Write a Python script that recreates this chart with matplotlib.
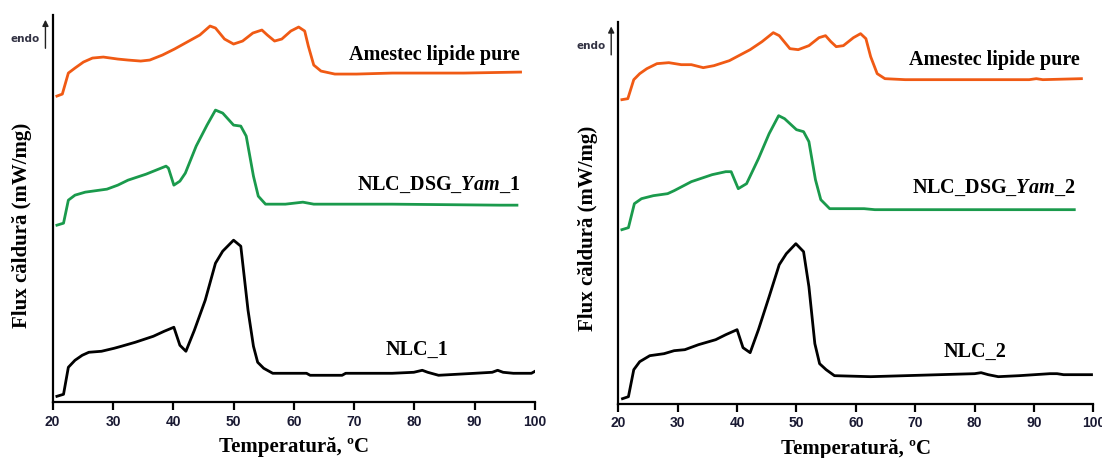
#!/usr/bin/env python3

import matplotlib
matplotlib.use('Agg')
import matplotlib.pyplot as plt

# DSC curves.  Heights are arbitrary heat flux
# units (the y axis has no scale), temperature is in degrees C.

# Left panel: lipid mixture
t_mix_1 = [20.7, 21.6, 22.6, 23.7, 25.1, 26.6, 28.4, 30.8, 32.5, 34.6, 36.1, 38.2, 40.2, 42.6,
           44.4, 46.1, 47.0, 48.5, 50.0, 51.5, 53.2, 54.7, 55.6, 56.8, 58.0, 59.5, 60.8, 61.8,
           62.4, 63.3, 64.5, 66.8, 70.4, 76.3, 88.2, 97.6]
f_mix_1 = [306, 308, 329, 334, 340, 344, 345, 343, 342, 341, 342, 347, 353, 361,
           367, 376, 374, 363, 358, 361, 369, 372, 367, 361, 363, 371, 375, 371,
           356, 337, 331, 328, 328, 329, 329, 330]

# Left panel: NLC_DSG_Yam_1
t_dsg_1 = [20.7, 21.8, 22.6, 23.7, 25.4, 29.0, 30.8, 32.5, 35.5, 38.8, 39.2, 40.1, 41.1, 42.0,
           43.8, 45.6, 47.0, 48.2, 50.0, 51.2, 52.1, 53.3, 54.1, 55.3, 58.6, 61.5, 63.3, 76.3,
           94.1, 97.0]
f_dsg_1 = [177, 179, 202, 207, 210, 213, 217, 222, 228, 236, 234, 217, 221, 229,
           256, 277, 292, 289, 277, 276, 266, 226, 206, 198, 198, 200, 198, 198,
           197, 197]

# Left panel: NLC_1
t_nlc_1 = [20.7, 21.8, 22.6, 23.7, 24.9, 26.0, 28.1, 30.2, 31.4, 33.7, 36.7, 38.5, 40.1, 41.1,
           42.1, 43.5, 45.3, 47.0, 48.2, 50.0, 51.2, 52.4, 53.3, 54.0, 55.0, 56.5, 62.1, 62.7,
           68.0, 68.6, 72.2, 76.3, 79.9, 81.3, 82.2, 84.0, 87.0, 90.0, 92.9, 93.8, 94.7, 96.4,
           99.4, 100.0]
f_nlc_1 = [6, 8, 35, 42, 47, 50, 51, 54, 56, 60, 66, 71, 75, 57,
           51, 72, 102, 139, 151, 162, 156, 92, 56, 40, 34, 29, 29, 27,
           27, 29, 29, 29, 30, 32, 30, 27, 28, 29, 30, 32, 30, 29,
           29, 31]

# Right panel: lipid mixture
t_mix_2 = [20.6, 21.6, 22.6, 23.6, 24.8, 26.5, 28.5, 30.6, 32.3, 34.3, 36.1, 38.7, 42.2, 44.2,
           46.1, 47.1, 48.9, 50.3, 52.1, 53.8, 54.9, 55.8, 56.7, 57.9, 59.6, 60.8, 61.7, 62.5,
           63.6, 64.9, 68.3, 74.1, 89.2, 90.4, 91.5, 98.0]
f_mix_2 = [304, 305, 324, 330, 335, 340, 341, 339, 339, 336, 338, 343, 354, 362,
           371, 368, 355, 354, 358, 366, 368, 362, 357, 358, 366, 370, 365, 347,
           330, 325, 324, 324, 324, 325, 324, 325]

# Right panel: NLC_DSG_Yam_2
t_dsg_2 = [20.6, 21.7, 22.7, 23.9, 25.9, 28.3, 29.4, 32.3, 35.8, 38.1, 39.0, 40.2, 41.6, 43.6,
           45.4, 47.0, 48.0, 50.0, 51.2, 52.1, 53.2, 54.1, 55.6, 61.4, 63.2, 77.0, 93.8, 96.8]
f_dsg_2 = [174, 176, 200, 205, 208, 210, 213, 222, 229, 232, 232, 215, 220, 245,
           270, 288, 285, 274, 272, 262, 224, 204, 195, 195, 194, 194, 194, 194]

# Right panel: NLC_2
t_nlc_2 = [20.7, 21.7, 22.6, 23.6, 25.3, 27.7, 29.4, 31.2, 33.5, 36.4, 38.1, 40.0, 41.0, 42.2,
           43.6, 45.4, 47.1, 48.3, 49.9, 51.2, 52.1, 53.1, 53.9, 55.0, 56.4, 62.5, 68.3, 74.1,
           80.0, 81.1, 82.3, 84.0, 87.5, 92.7, 93.9, 95.0, 99.7]
f_nlc_2 = [5, 7, 34, 42, 48, 50, 53, 54, 59, 64, 69, 74, 56, 51,
           74, 107, 139, 150, 160, 152, 117, 60, 40, 34, 28, 27, 28, 29,
           30, 31, 29, 27, 28, 30, 30, 29, 29]

panels = [
    # curves and their names, top to bottom
    dict(curves=[(t_mix_1, f_mix_1), (t_dsg_1, f_dsg_1), (t_nlc_1, f_nlc_1)],
         names=['Amestec lipide pure', 'NLC_DSG_$\\mathit{Yam}$_1', 'NLC_1']),
    dict(curves=[(t_mix_2, f_mix_2), (t_dsg_2, f_dsg_2), (t_nlc_2, f_nlc_2)],
         names=['Amestec lipide pure', 'NLC_DSG_$\\mathit{Yam}$_2', 'NLC_2']),
]

colors = ['#f05a14', '#1a9a4c', '#000000']

if __name__ == '__main__':
    plt.rcParams['mathtext.fontset'] = 'custom'
    plt.rcParams['mathtext.it'] = 'Liberation Serif:italic:bold'
    plt.rcParams['mathtext.rm'] = 'Liberation Serif:bold'

    fig = plt.figure(figsize=(11.02, 4.58), dpi=100)

    # axes boxes in figure fractions, and the y range of each panel
    boxes = [[0.0478, 0.1216, 0.4377, 0.8456], [0.5611, 0.1186, 0.4310, 0.8341]]
    ytops = [387, 382]
    label_y = [[347, 217, 52], [344, 216, 52]]
    label_x = [[97.5, 97.5, 80.4], [97.8, 97.0, 80.1]]
    label_ha = ['right', 'right', 'center']

    for i, p in enumerate(panels):
        ax = fig.add_axes(boxes[i])
        for (t, f), c in zip(p['curves'], colors):
            ax.plot(t, f, color=c, lw=2.0, solid_joinstyle='round')

        for j, name in enumerate(p['names']):
            ax.text(label_x[i][j], label_y[i][j], name, ha=label_ha[j], va='center',
                    family='Liberation Serif', fontweight='bold', fontsize=14.5)

        ax.set_xlim(20, 100)
        ax.set_ylim(0, ytops[i])
        ax.set_xticks(range(20, 101, 10))
        ax.set_yticks([])
        for s in ['top', 'right']:
            ax.spines[s].set_visible(False)
        for s in ['left', 'bottom']:
            ax.spines[s].set_linewidth(1.6)
        ax.tick_params(axis='x', direction='out', length=6, width=1.6, pad=3)
        for lab in ax.get_xticklabels():
            lab.set_fontfamily('Liberation Sans')
            lab.set_fontweight('bold')
            lab.set_fontsize(10)
            lab.set_color('#1a1a33')

        ax.set_xlabel('Temperatură, ºC', family='Liberation Serif', fontweight='bold',
                      fontsize=15, labelpad=6)
        ax.set_ylabel('Flux căldură (mW/mg)', family='Liberation Serif', fontweight='bold',
                      fontsize=15)
        ax.yaxis.set_label_coords(-0.043, 0.458)

        # endo arrow to the left of the axis
        ax.annotate('', xy=(-0.015, ytops[i] - 2), xytext=(-0.015, ytops[i] - 36),
                    xycoords=('axes fraction', 'data'),
                    arrowprops=dict(arrowstyle='-|>', color='#222222', lw=1.0,
                                    mutation_scale=9))
        ax.text(-0.058, ytops[i] - 24, 'endo', transform=ax.get_yaxis_transform(),
                ha='center', va='center', fontsize=7.5, color='#333344', fontweight='bold')

    fig.savefig('out.png', dpi=100)
